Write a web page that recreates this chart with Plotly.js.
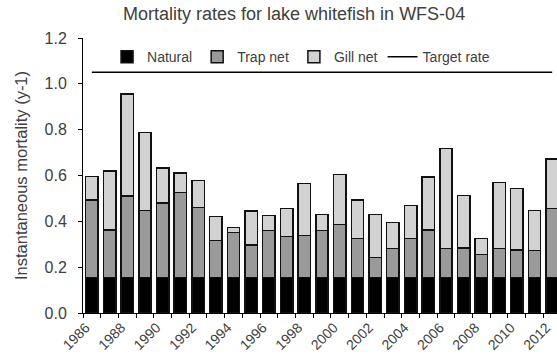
<!DOCTYPE html>
<html>
<head>
<meta charset="utf-8">
<script src="https://cdn.plot.ly/plotly-3.0.1.min.js"></script>
<style>html,body{margin:0;padding:0;background:#fff;}#chart{width:557px;height:363px;}</style>
</head>
<body>
<div id="chart"></div>
<script>
const years = [1986,1987,1988,1989,1990,1991,1992,1993,1994,1995,1996,1997,1998,1999,2000,2001,2002,2003,2004,2005,2006,2007,2008,2009,2010,2011,2012];
const natural = [0.155,0.155,0.155,0.155,0.155,0.155,0.155,0.155,0.155,0.155,0.155,0.155,0.155,0.155,0.155,0.155,0.155,0.155,0.155,0.155,0.155,0.155,0.155,0.155,0.155,0.155,0.155];
// cumulative tops
const trapTop = [0.493,0.363,0.510,0.447,0.481,0.526,0.461,0.316,0.351,0.297,0.361,0.333,0.339,0.360,0.386,0.325,0.243,0.281,0.325,0.362,0.281,0.284,0.255,0.281,0.276,0.273,0.457];
const totalTop = [0.596,0.620,0.955,0.787,0.632,0.612,0.578,0.422,0.373,0.445,0.425,0.455,0.565,0.430,0.604,0.493,0.429,0.394,0.470,0.594,0.717,0.513,0.325,0.570,0.544,0.447,0.671];
const targetRate = [1.05,1.05,1.05,1.05,1.05,1.05,1.05,1.05,1.05,1.05,1.05,1.05,1.05,1.05,1.05,1.05,1.05,1.05,1.05,1.05,1.05,1.05,1.05,1.05,1.05,1.05,1.05];
const tickYears = [1986,1988,1990,1992,1994,1996,1998,2000,2002,2004,2006,2008,2010,2012];

const trapNet = trapTop.map((v,i)=>+(v - natural[i]).toFixed(3));
const gillNet = totalTop.map((v,i)=>+(v - trapTop[i]).toFixed(3));

const outline = {color:'#111', width:1.5};
const traces = [
  {type:'bar', name:'Natural', x:years, y:natural, marker:{color:'#000000', line:outline}},
  {type:'bar', name:'Trap net', x:years, y:trapNet, marker:{color:'#9a9a9a', line:outline}},
  {type:'bar', name:'Gill net', x:years, y:gillNet, marker:{color:'#d2d2d2', line:outline}},
  {type:'scatter', mode:'lines', name:'Target rate', x:years, y:targetRate, line:{color:'#000', width:1.5}}
];

const fam = '"Liberation Sans", Arial, sans-serif';
const col = '#404040';
const f = (s)=>({family:fam, color:col, size:s});
const layout = {
  width:557, height:363,
  margin:{l:83, r:0, t:38, b:50},
  paper_bgcolor:'#fff', plot_bgcolor:'#fff',
  font:f(14),
  title:{text:'Mortality rates for lake whitefish in WFS-04', x:0.528, xanchor:'center', y:0.962, yanchor:'middle', font:f(18)},
  barmode:'stack', bargap:0.3,
  showlegend:true,
  legend:{orientation:'h', x:0.46, xanchor:'center', y:0.93, yanchor:'middle', traceorder:'normal', bgcolor:'rgba(0,0,0,0)', font:f(14), itemwidth:30, tracegroupgap:0},
  xaxis:{
    type:'linear', range:[1985.5, 2012.27], showgrid:false, zeroline:false,
    showline:true, linecolor:'#000', linewidth:1,
    tickmode:'array', tickvals:tickYears, ticktext:tickYears.map(String),
    ticks:'', tickangle:-45, tickfont:f(14), ticklabeloverflow:'allow', ticklabelshift:-6,
    minor:{tick0:1985.5, dtick:1, ticks:'outside', ticklen:4, tickcolor:'#000', showgrid:false}
  },
  yaxis:{
    range:[0,1.2], dtick:0.2, tickformat:'.1f', showgrid:false, zeroline:false,
    showline:true, linecolor:'#000', linewidth:1,
    ticks:'outside', ticklen:4, tickcolor:'#000', tickfont:f(16), ticklabelstandoff:8,
    title:{text:'Instantaneous mortality (y-1)', font:f(16.5), standoff:12}
  }
};
Plotly.newPlot('chart', traces, layout, {displayModeBar:false, staticPlot:true});
</script>
</body>
</html>
